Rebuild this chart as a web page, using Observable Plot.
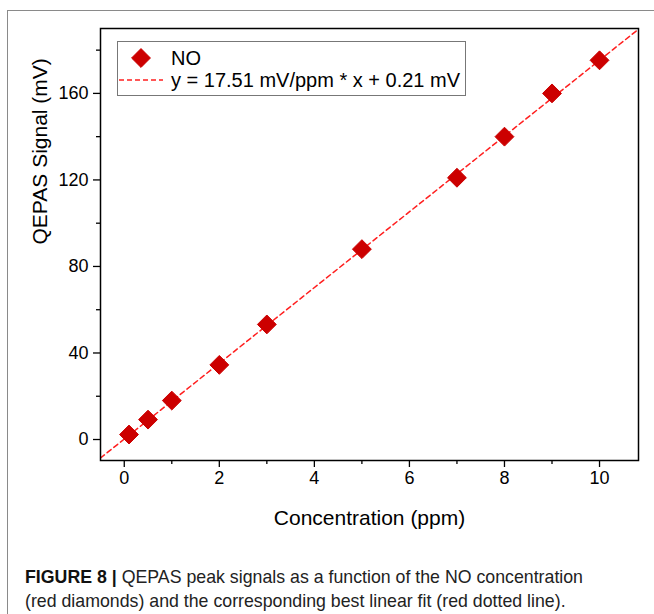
<!DOCTYPE html>
<html><head><meta charset="utf-8">
<script src="https://cdn.jsdelivr.net/npm/d3@7"></script>
<script src="https://cdn.jsdelivr.net/npm/@observablehq/plot@0.6"></script>
<style>
body{margin:0;background:#fff;}
#wrap{position:relative;width:654px;height:614px;overflow:hidden;font-family:"Liberation Sans",Arial,sans-serif;background:#fff;}
#border{position:absolute;left:7px;top:10px;width:700px;height:700px;border-top:1px solid #8a8a8a;border-left:1px solid #8a8a8a;}
#chart{position:absolute;left:0;top:0;}
#legend{position:absolute;left:0;top:0;}
#caption{position:absolute;left:25px;top:565px;font-family:"Liberation Sans",Arial,sans-serif;font-size:19px;line-height:24px;color:#222;white-space:nowrap;transform-origin:0 0;}
#caption b{color:#111;}
#caption span{display:inline-block;}
</style></head>
<body>
<div id="wrap">
  <div id="border"></div>
  <div id="chart"></div>
  <svg id="legend" width="654" height="120"></svg>
  <div id="caption"></div>
</div>
<script>
// Data
const concentration = [0.1, 0.5, 1, 2, 3, 5, 7, 8, 9, 10];
const signal = [2.3, 9.2, 18, 34.5, 53.2, 88, 121, 140, 160, 175.3];
const fitSlope = 17.51;
const fitIntercept = 0.21;
const xDomain = [-0.5, 10.82];
const yDomain = [-9.7, 190];
const xTicks = [0, 2, 4, 6, 8, 10];
const xMinorTicks = [1, 3, 5, 7, 9];
const yTicks = [0, 40, 80, 120, 160];
const yMinorTicks = [20, 60, 100, 140, 180];
const xLabel = "Concentration (ppm)";
const yLabel = "QEPAS Signal (mV)";
const legendLabels = ["NO", "y = 17.51 mV/ppm * x + 0.21 mV"];
const captionBold = "FIGURE 8 |";
const captionText = ["QEPAS peak signals as a function of the NO concentration", "(red diamonds) and the corresponding best linear fit (red dotted line)."];

const pointColor = "#cc0000";
const lineColor = "#ff1f1f";

const points = concentration.map((c, i) => ({x: c, y: signal[i]}));
const fit = xDomain.map(x => ({x, y: fitSlope * x + fitIntercept}));

const font = "'Liberation Sans', Arial, sans-serif";
const chart = Plot.plot({
  width: 654, height: 540,
  marginLeft: 100, marginRight: 16, marginTop: 28, marginBottom: 80,
  x: {domain: xDomain},
  y: {domain: yDomain},
  style: {fontFamily: font, fontSize: "18px", color: "#000", background: "transparent"},
  marks: [
    Plot.line(fit, {x: "x", y: "y", stroke: lineColor, strokeWidth: 1.5, strokeDasharray: "5,3.5", clip: true}),
    Plot.dot(points, {x: "x", y: "y", symbol: "diamond2", r: 8.5, fill: pointColor, stroke: pointColor, strokeWidth: 1}),
    Plot.frame({stroke: "#000", strokeWidth: 1.5}),
    Plot.axisX({ticks: xTicks, tickSize: 7, tickPadding: 4, fontSize: 18, label: null, strokeWidth: 1.3}),
    Plot.axisX({ticks: xMinorTicks, tickSize: 4, tickFormat: () => "", label: null, strokeWidth: 1.3}),
    Plot.axisY({ticks: yTicks, tickSize: 7, tickPadding: 5, fontSize: 18, label: null, strokeWidth: 1.3}),
    Plot.axisY({ticks: yMinorTicks, tickSize: 4, tickFormat: () => "", label: null, strokeWidth: 1.3}),
    Plot.text([xLabel], {text: d => d, frameAnchor: "bottom", dy: 58, fontSize: 21, lineAnchor: "middle", fill: "#000"}),
    Plot.text([yLabel], {text: d => d, frameAnchor: "left", dx: -60, rotate: -90, fontSize: 21, lineAnchor: "middle", fill: "#000"})
  ]
});
document.getElementById("chart").appendChild(chart);

// Legend
const lg = d3.select("#legend");
lg.append("rect").attr("x", 117.5).attr("y", 41.5).attr("width", 348).attr("height", 54)
  .attr("fill", "#fff").attr("stroke", "#777").attr("stroke-width", 1);
lg.append("path").attr("d", d3.symbol(d3.symbolDiamond2, 8.5 * 8.5 * Math.PI)())
  .attr("transform", "translate(141,58)").attr("fill", pointColor).attr("stroke", pointColor);
lg.append("line").attr("x1", 119).attr("x2", 163).attr("y1", 80).attr("y2", 80)
  .attr("stroke", lineColor).attr("stroke-width", 1.5).attr("stroke-dasharray", "5,3");
lg.selectAll("text.l").data(legendLabels).join("text")
  .attr("x", 171).attr("y", (d, i) => 58 + i * 22).attr("dy", "0.35em")
  .attr("font-family", font).attr("font-size", 20).attr("fill", "#000").text(d => d);

// Caption (condensed to the reference's line width)
const cap = document.getElementById("caption");
const line1 = document.createElement("span");
const b = document.createElement("b");
b.textContent = captionBold + " ";
line1.appendChild(b);
line1.appendChild(document.createTextNode(captionText[0]));
cap.appendChild(line1);
cap.appendChild(document.createElement("br"));
const line2 = document.createElement("span");
line2.textContent = captionText[1];
cap.appendChild(line2);
const w = line1.getBoundingClientRect().width;
cap.style.transform = `scaleX(${558 / w})`;
</script>
</body></html>
